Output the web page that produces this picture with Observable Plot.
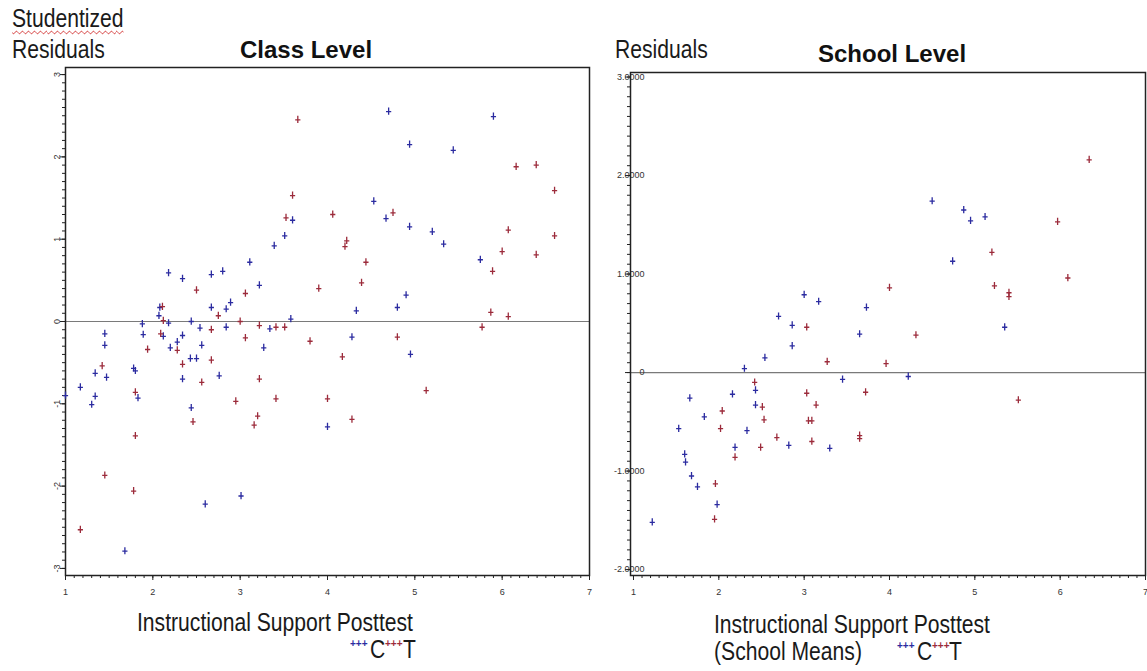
<!DOCTYPE html>
<html>
<head>
<meta charset="utf-8">
<script src="https://cdn.jsdelivr.net/npm/d3@7"></script>
<script src="https://cdn.jsdelivr.net/npm/@observablehq/plot@0.6"></script>
<style>
  html, body { margin: 0; padding: 0; background: #fff; }
  #root { position: relative; width: 1147px; height: 671px; overflow: hidden; background: #fff;
          font-family: "Liberation Sans", Arial, sans-serif; color: #1a1a1a; }
  .t { position: absolute; white-space: nowrap; line-height: 1; }
  .n { font-size: 25px; transform: scaleX(0.845); transform-origin: 0 0; }
  .b { font-size: 24px; font-weight: bold; color: #111; }
  .lg { font-size: 10px; letter-spacing: 0px; font-weight: bold; }
  .plot { position: absolute; }
</style>
</head>
<body>
<div id="root"></div>
<script>
// ---------------- data ----------------
const groups = ["C", "T"];
const groupColors = ["#2b2ba0", "#9c2b3b"];

// Class level (studentized residuals)
const classX_C = [2.18,2.34,2.67,2.80,2.89,2.84,2.67,2.08,2.07,2.18,2.44,3.58,1.88,1.45,1.89,2.12,2.34,2.54,2.84,3.34,3.11,3.22,3.39,3.51,3.60,1.45,2.28,2.20,2.56,2.43,2.50,2.34,2.76,3.27,4.00,2.44,2.60,3.01,1.68,1.83,1.78,1.80,1.34,1.47,1.17,1.00,1.34,1.30,4.70,5.90,4.94,5.44,4.53,4.67,4.94,5.20,5.33,5.75,4.90,4.80,4.33,4.28,4.95];
const classY_C = [0.59,0.52,0.57,0.61,0.23,0.15,0.17,0.17,0.07,-0.02,0.00,0.03,-0.03,-0.15,-0.16,-0.18,-0.17,-0.08,-0.07,-0.09,0.72,0.44,0.92,1.04,1.23,-0.29,-0.25,-0.32,-0.29,-0.45,-0.45,-0.70,-0.66,-0.32,-1.28,-1.05,-2.22,-2.12,-2.79,-0.93,-0.57,-0.60,-0.63,-0.68,-0.80,-0.90,-0.91,-1.01,2.55,2.49,2.15,2.08,1.46,1.25,1.15,1.09,0.94,0.75,0.32,0.17,0.13,-0.19,-0.40];
const classX_T = [3.66,3.60,3.525,4.06,3.06,3.90,2.50,2.75,2.11,2.12,3.00,2.09,2.67,3.22,3.41,3.51,3.06,1.94,2.28,2.34,2.67,2.56,3.22,2.95,3.41,3.20,3.16,3.80,4.00,2.46,1.17,1.45,1.78,1.80,1.80,1.42,6.16,6.39,6.60,4.75,6.07,6.60,4.22,4.20,6.00,6.39,5.89,4.44,4.39,5.87,6.07,5.77,4.80,4.17,5.13,4.28];
const classY_T = [2.45,1.53,1.26,1.30,0.34,0.40,0.38,0.07,0.18,0.01,0.00,-0.15,-0.10,-0.05,-0.07,-0.07,-0.20,-0.34,-0.35,-0.52,-0.47,-0.74,-0.70,-0.97,-0.94,-1.15,-1.26,-0.24,-0.94,-1.22,-2.53,-1.87,-2.06,-1.39,-0.86,-0.54,1.88,1.90,1.59,1.32,1.11,1.04,0.98,0.91,0.85,0.81,0.61,0.72,0.47,0.11,0.06,-0.07,-0.19,-0.43,-0.84,-1.19];

// School level (residuals, school means)
const schoolX_C = [3.00,3.17,3.73,2.70,2.86,3.65,2.86,2.54,2.30,3.45,2.43,2.16,1.66,2.43,1.83,1.53,2.33,2.82,2.19,3.30,1.60,1.61,1.68,1.75,1.98,1.22,4.50,4.87,4.95,5.12,4.74,5.35,4.22];
const schoolY_C = [0.79,0.72,0.66,0.57,0.48,0.39,0.27,0.15,0.04,-0.07,-0.18,-0.22,-0.26,-0.33,-0.45,-0.57,-0.59,-0.74,-0.76,-0.77,-0.83,-0.91,-1.05,-1.16,-1.34,-1.52,1.74,1.65,1.54,1.58,1.13,0.46,-0.04];
const schoolX_T = [3.03,3.27,2.42,3.72,3.03,3.14,2.51,2.04,2.53,3.05,3.09,2.02,2.68,3.65,3.65,3.09,2.49,2.19,1.96,1.95,6.34,5.97,5.20,6.09,5.23,5.40,5.40,4.00,4.31,3.96,5.51];
const schoolY_T = [0.46,0.11,-0.10,-0.20,-0.21,-0.33,-0.35,-0.39,-0.48,-0.49,-0.49,-0.57,-0.66,-0.64,-0.67,-0.70,-0.76,-0.86,-1.13,-1.49,2.16,1.53,1.22,0.96,0.88,0.81,0.77,0.86,0.38,0.09,-0.28];

// tick labels
const classXTicks = [1, 2, 3, 4, 5, 6, 7];
const classYTicks = [-3, -2, -1, 0, 1, 2, 3];
const schoolXTicks = [1, 2, 3, 4, 5, 6, 7];
const schoolYTicks = [-2, -1, 0, 1, 2, 3];
const schoolYLabels = ["-2.0000", "-1.0000", "0", "1.0000", "2.0000", "3.0000"];

// ---------------- helpers ----------------
function rows(xs, ys, g) { return xs.map((x, i) => ({x, y: ys[i], g})); }
const classData = rows(classX_C, classY_C, "C").concat(rows(classX_T, classY_T, "T"));
const schoolData = rows(schoolX_C, schoolY_C, "C").concat(rows(schoolX_T, schoolY_T, "T"));

const dagger = {
  draw(ctx) {
    ctx.moveTo(-2.6, 0); ctx.lineTo(2.6, 0);
    ctx.moveTo(0, -4); ctx.lineTo(0, 3.2);
  }
};
const minor = (a, b) => d3.range(Math.round(a * 10), Math.round(b * 10) + 1).map(d => d / 10);
const none = () => null;

const root = document.getElementById("root");

function place(el, left, top) {
  el.classList.add("plot");
  el.style.left = left + "px";
  el.style.top = top + "px";
  root.appendChild(el);
}

// ---------------- class level ----------------
const classPlot = Plot.plot({
  width: 600, height: 545,
  marginTop: 7, marginBottom: 30, marginLeft: 65, marginRight: 11,
  x: {domain: [1, 7]},
  y: {domain: [-3.086, 3.086]},
  color: {domain: groups, range: groupColors},
  style: {fontFamily: "Liberation Sans, Arial, sans-serif", fontSize: "9px", color: "#333", background: "transparent"},
  marks: [
    Plot.ruleY([0], {stroke: "#7a7a7a", strokeWidth: 1.2}),
    Plot.axisX(minor(1, 7), {tickSize: 3, tickFormat: none, label: null, stroke: "#222"}),
    Plot.axisX(classXTicks, {tickSize: 5, tickPadding: 8, label: null, stroke: "#222", tickFormat: d => `${d}`}),
    Plot.axisY(minor(-3, 3), {tickSize: 3, tickFormat: none, label: null, stroke: "#222"}),
    Plot.axisY(classYTicks, {tickSize: 5, tickPadding: 1, tickRotate: -90, label: null, stroke: "#222", tickFormat: d => `${d}`}),
    Plot.frame({stroke: "#222", strokeWidth: 1.5}),
    Plot.dot(classData, {x: "x", y: "y", stroke: "g", fill: "none", symbol: dagger, r: 4, strokeWidth: 1.3})
  ]
});
place(classPlot, 0, 60);

// ---------------- school level ----------------
const schoolPlot = Plot.plot({
  width: 557, height: 545,
  marginTop: 12, marginBottom: 30, marginLeft: 40, marginRight: 2,
  x: {domain: [0.965, 7.0]},
  y: {domain: [-2.06, 3.046]},
  color: {domain: groups, range: groupColors},
  style: {fontFamily: "Liberation Sans, Arial, sans-serif", fontSize: "9px", color: "#333", background: "transparent"},
  marks: [
    Plot.ruleY([0], {stroke: "#7a7a7a", strokeWidth: 1.2}),
    Plot.axisX(minor(1, 7), {tickSize: 3, tickFormat: none, label: null, stroke: "#222"}),
    Plot.axisX(schoolXTicks, {tickSize: 5, tickPadding: 8, label: null, stroke: "#222", tickFormat: d => `${d}`}),
    Plot.axisY(minor(-2, 3), {tickSize: 3, tickFormat: none, label: null, stroke: "#222"}),
    Plot.axisY(schoolYTicks, {tickSize: 5, tickFormat: none, label: null, stroke: "#222"}),
    Plot.axisY(schoolYTicks, {tickSize: 0, tickPadding: 0, dx: 14, textAnchor: "end", label: null,
      tickFormat: d => schoolYLabels[schoolYTicks.indexOf(d)]}),
    Plot.frame({stroke: "#222", strokeWidth: 1.5}),
    Plot.dot(schoolData, {x: "x", y: "y", stroke: "g", fill: "none", symbol: dagger, r: 4, strokeWidth: 1.3})
  ]
});
place(schoolPlot, 590, 60);

// ---------------- texts ----------------
function text(str, cls, left, baseline, fs, color, extra) {
  const d = document.createElement("div");
  d.className = "t " + cls;
  d.textContent = str;
  d.style.left = left + "px";
  d.style.top = (baseline - 0.8465 * fs) + "px";
  if (color) d.style.color = color;
  if (extra) Object.assign(d.style, extra);
  root.appendChild(d);
  return d;
}
text("Studentized", "n", 12, 27, 25, null, {textDecoration: "underline wavy #d03030", textDecorationThickness: "1px", textUnderlineOffset: "3px"});
text("Residuals", "n", 12, 58, 25);
text("Class Level", "b", 240, 58, 24);
text("Residuals", "n", 615, 58, 25);
text("School Level", "b", 818, 62, 24);

text("Instructional Support Posttest", "n", 137, 631, 25);
text("+++", "lg", 350, 647, 10, groupColors[0]);
text(groups[0], "n", 370, 658, 25);
text("+++", "lg", 385, 647, 10, groupColors[1]);
text(groups[1], "n", 403, 658, 25);

text("Instructional Support Posttest", "n", 714, 633, 25);
text("(School Means)", "n", 714, 660, 25);
text("+++", "lg", 897, 649, 10, groupColors[0]);
text(groups[0], "n", 917, 660, 25);
text("+++", "lg", 932, 649, 10, groupColors[1]);
text(groups[1], "n", 949, 660, 25);
</script>
</body>
</html>
